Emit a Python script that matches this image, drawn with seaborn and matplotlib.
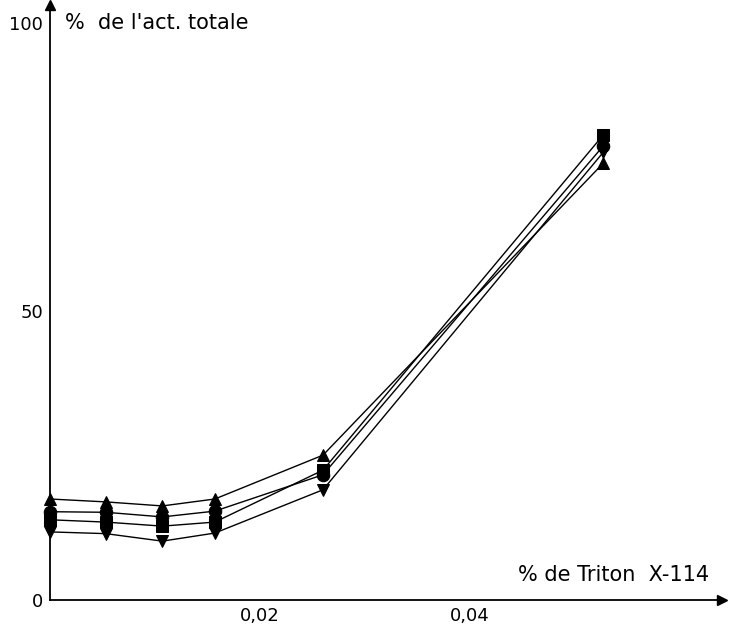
# Activité en fonction du % de Triton X-114
import pandas as pd
import matplotlib.pyplot as plt
import seaborn as sns

triton = [0.0, 0.0053, 0.0107, 0.0157, 0.026, 0.0527]
serie_up = [17.5, 17.0, 16.3, 17.5, 25.1, 75.7]
serie_circle = [15.3, 15.2, 14.4, 15.4, 21.7, 78.7]
serie_square = [13.9, 13.5, 12.8, 13.5, 22.5, 80.6]
serie_down = [11.8, 11.5, 10.2, 11.6, 19.1, 77.6]

series = {'up': serie_up, 'circle': serie_circle,
          'square': serie_square, 'down': serie_down}
rows = []
for name, vals in series.items():
    for x, y in zip(triton, vals):
        rows.append({'triton': x, 'act': y, 'serie': name})
df = pd.DataFrame(rows)

sns.set_style('white')
plt.rcParams['font.family'] = ['DejaVu Sans']
plt.rcParams['text.color'] = 'black'

fig = plt.figure(figsize=(7.29, 6.27), dpi=100)
ax = fig.add_axes([50 / 729, 27 / 627, 672 / 729, 595 / 627])

sns.lineplot(data=df, x='triton', y='act', style='serie',
             markers={'up': '^', 'circle': 'o', 'square': 's', 'down': 'v'},
             dashes=False, color='black', linewidth=1, markersize=9,
             markeredgecolor='black', legend=False, ax=ax, clip_on=False)

ax.set_xlim(0, 0.064)
ax.set_ylim(0, 103.1)
for side in ['top', 'right']:
    ax.spines[side].set_visible(False)
for side in ['left', 'bottom']:
    ax.spines[side].set_color('black')
    ax.spines[side].set_linewidth(1.3)

# arrow heads
ax.plot(1, 0, '>', color='black', markersize=7, transform=ax.transAxes, clip_on=False)
ax.plot(0, 1, '^', color='black', markersize=7, transform=ax.transAxes, clip_on=False)

ax.set_xticks([0.02, 0.03, 0.04, 0.05])
ax.set_xticklabels(['0,02', '', '0,04', ''])
ax.set_yticks([0, 50, 100])
ax.set_yticklabels(['0', '50', '100'])
ax.tick_params(direction='in', length=4, width=1, colors='black',
               labelsize=13, pad=5)
ax.tick_params(axis='y', pad=5)

ax.set_xlabel('')
ax.set_ylabel('')
ax.text(0.0014, 100, "%  de l'act. totale", fontsize=15, va='center', ha='left')
ax.text(0.0628, 4.3, '% de Triton  X-114', fontsize=15, va='center', ha='right')

fig.savefig('out.png', dpi=100)
